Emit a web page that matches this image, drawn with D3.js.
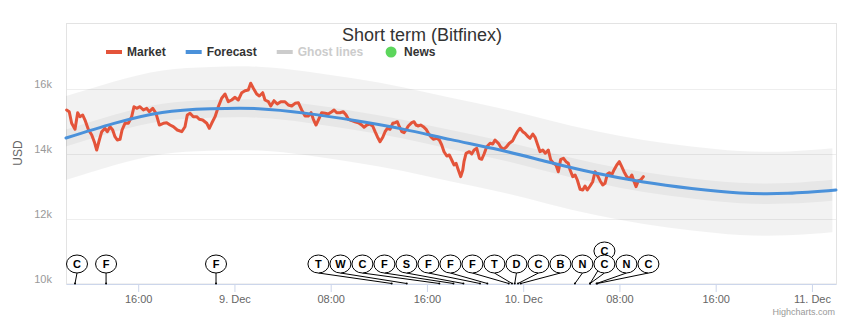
<!DOCTYPE html>
<html>
<head>
<meta charset="utf-8">
<script src="https://cdn.jsdelivr.net/npm/d3@7"></script>
<style>
  html, body { margin: 0; padding: 0; background: #fff; }
  svg { display: block; font-family: "Liberation Sans", Arial, Helvetica, sans-serif; }
</style>
</head>
<body>
<svg id="chart" width="861" height="327"></svg>
<script>
// Time window: 8 Dec 10:00 to 11 Dec 02:00 (UTC); series times are hours after START
const START = Date.UTC(2017, 11, 8, 10);
const END = Date.UTC(2017, 11, 11, 2);
const HOUR = 3600 * 1000;

// Market price (Bitfinex BTC/USD): [hours after START, price]
const market = [
  [0.05,15354],[0.27,15302],[0.47,14945],[0.75,14760],[0.97,15271],[1.16,15148],[1.39,15200],[1.58,15046],
  [1.85,14760],[2.14,14585],[2.35,14379],[2.55,14123],[2.77,14431],[2.97,14686],[3.24,14791],[3.43,14686],
  [3.66,14840],[3.88,14739],[4.07,14532],[4.26,14431],[4.49,14452],[4.66,14739],[4.90,14945],[5.18,14945],
  [5.46,15148],[5.65,15455],[5.88,15406],[6.15,15455],[6.43,15354],[6.71,15406],[6.92,15302],[7.21,15406],
  [7.48,15252],[7.76,14892],[8.09,14945],[8.37,14963],[8.65,14892],[8.92,14840],[9.25,14739],[9.62,14686],
  [9.89,14840],[10.08,15200],[10.31,15252],[10.58,15148],[10.86,15148],[11.08,15068],[11.36,15046],[11.70,14945],
  [11.91,14791],[12.11,14945],[12.39,15148],[12.66,15455],[12.94,15714],[13.22,15846],[13.49,15609],[13.77,15662],
  [14.05,15745],[14.32,15662],[14.61,15886],[14.88,15948],[15.15,15969],[15.35,16176],[15.57,16022],[15.85,15846],
  [16.07,15785],[16.35,15886],[16.54,15662],[16.82,15609],[17.02,15477],[17.29,15640],[17.56,15539],[17.85,15609],
  [18.20,15609],[18.48,15508],[18.76,15477],[19.04,15560],[19.31,15579],[19.59,15354],[19.87,15169],[20.14,15169],
  [20.37,15271],[20.56,15068],[20.78,14892],[21.00,15068],[21.25,15271],[21.53,15252],[21.80,15231],[22.09,15302],
  [22.28,15354],[22.50,15271],[22.78,15271],[23.05,15302],[23.28,15200],[23.47,15068],[23.75,15025],[24.02,14994],
  [24.30,14963],[24.58,14892],[24.77,14822],[25.00,14892],[25.21,14923],[25.49,14862],[25.69,14686],[25.88,14532],
  [26.10,14379],[26.33,14514],[26.52,14686],[26.71,14791],[26.93,14760],[27.16,14945],[27.35,14963],[27.54,14994],
  [27.71,14840],[27.91,14686],[28.10,14655],[28.26,14739],[28.45,14862],[28.74,14963],[28.93,14994],[29.09,14892],
  [29.29,14862],[29.48,14892],[29.70,14840],[29.93,14760],[30.12,14637],[30.32,14532],[30.53,14452],[30.81,14483],
  [31.03,14431],[31.23,14277],[31.42,14071],[31.65,13939],[31.86,13969],[32.06,13815],[32.25,13662],[32.42,13714],
  [32.61,13508],[32.81,13302],[32.98,13508],[33.08,13763],[33.25,14022],[33.52,14071],[33.72,14000],[33.92,14123],
  [34.14,14175],[34.36,13868],[34.55,13837],[34.75,14000],[34.97,14225],[35.25,14329],[35.47,14308],[35.66,14431],
  [35.94,14329],[36.14,14206],[36.35,14145],[36.58,14206],[36.85,14329],[37.13,14409],[37.32,14554],[37.52,14686],
  [37.74,14791],[37.96,14686],[38.15,14637],[38.35,14554],[38.57,14483],[38.80,14615],[38.99,14514],[39.18,14308],
  [39.40,14071],[39.63,14123],[39.84,14022],[40.09,14123],[40.29,13815],[40.51,13714],[40.73,13662],[40.92,13455],
  [41.12,13837],[41.34,13868],[41.56,13763],[41.75,13714],[41.90,13508],[42.12,13302],[42.31,13354],[42.50,13200],
  [42.73,12914],[42.95,12892],[43.14,13015],[43.33,12892],[43.56,13015],[43.78,13148],[43.97,13455],[44.16,13354],
  [44.39,13179],[44.61,13046],[44.80,13099],[45.00,13385],[45.16,13425],[45.36,13354],[45.55,13508],[45.78,13662],
  [45.99,13763],[46.19,13609],[46.38,13455],[46.61,13302],[46.83,13222],[47.03,13354],[47.22,13148],[47.38,12994],
  [47.57,13179],[47.77,13200],[47.99,13302]
];

// Forecast curve
const forecastHours = [0, 4, 8, 12, 16, 20, 24, 28, 32, 36, 40, 44, 48, 52, 56, 60, 64];
const forecastPrice = [14492, 14944, 15280, 15390, 15395, 15250, 15030, 14766, 14443, 14129, 13763, 13415, 13138, 12938, 12800, 12790, 12892];

// Ghost line envelopes (inner and outer spread around the forecast)
const ghostHours = [0, 4, 8, 12, 16, 20, 24, 28, 32, 36, 40, 44, 48, 52, 56, 60, 63.7];
const ghostInnerLow  = [14232, 14679, 15010, 15115, 15115, 14965, 14742, 14476, 14150, 13833, 13463, 13112, 12832, 12628, 12487, 12474, 12565];
const ghostInnerHigh = [14752, 15209, 15550, 15665, 15675, 15535, 15318, 15056, 14736, 14425, 14063, 13718, 13444, 13248, 13113, 13106, 13205];
const ghostOuterLow  = [13202, 13654, 13990, 14100, 14105, 13960, 13740, 13476, 13153, 12839, 12473, 12125, 11848, 11648, 11510, 11500, 11595];
const ghostOuterHigh = [15782, 16234, 16570, 16680, 16685, 16540, 16320, 16056, 15733, 15419, 15053, 14705, 14428, 14228, 14090, 14080, 14175];

// News flags
const newsHours  = [0.75, 3.33, 12.47, 27.07, 28.32, 31.03, 32.2, 33.03, 34.41, 35.02, 36.8, 37.07, 37.3, 37.57, 37.8, 42.3, 43.56, 43.56, 44.1, 44.15];
const newsTitles = ['C', 'F', 'F', 'T', 'W', 'C', 'F', 'S', 'F', 'F', 'F', 'T', 'D', 'C', 'B', 'N', 'C', 'C', 'N', 'C'];

const yTicks = [10000, 12000, 14000, 16000];
const yGrid = [12000, 14000, 16000];

const legendNames  = ['Market', 'Forecast', 'Ghost lines', 'News'];
const legendColors = ['#e4543a', '#4a91da', '#cccccc', '#5cd65c'];
const legendHidden = [false, false, true, false];

// ---------------------------------------------------------------
const svg = d3.select('#chart');
const plot = { left: 66, right: 836, top: 24, bottom: 284 };

const x = d3.scaleUtc().domain([START, END]).range([plot.left, plot.right]);
const y = d3.scaleLinear().domain([10000, 18000]).range([plot.bottom, plot.top]);
const t = h => new Date(START + h * HOUR);

// Title
svg.append('text')
  .attr('x', 422).attr('y', 41)
  .attr('text-anchor', 'middle')
  .attr('fill', '#333333')
  .style('font-size', '18px')
  .text('Short term (Bitfinex)');

// Grid lines
svg.append('g').selectAll('line').data(yGrid).join('line')
  .attr('x1', plot.left).attr('x2', plot.right)
  .attr('y1', d => Math.round(y(d)) + 0.5).attr('y2', d => Math.round(y(d)) + 0.5)
  .attr('stroke', '#eeeeee');

// Plot frame
svg.append('rect')
  .attr('x', plot.left + 0.5).attr('y', plot.top - 0.5)
  .attr('width', plot.right - plot.left).attr('height', plot.bottom - plot.top + 0.5)
  .attr('fill', 'none').attr('stroke', '#e3e3e3');

// Ghost line envelopes
const ghostIdx = d3.range(ghostHours.length);
const bandArea = (lo, hi) => d3.area()
  .x(i => x(t(ghostHours[i])))
  .y0(i => y(lo[i])).y1(i => y(hi[i]))
  .curve(d3.curveNatural);
svg.append('path').datum(ghostIdx)
  .attr('d', bandArea(ghostOuterLow, ghostOuterHigh))
  .attr('fill', 'rgba(0,0,0,0.05)');
svg.append('path').datum(ghostIdx)
  .attr('d', bandArea(ghostInnerLow, ghostInnerHigh))
  .attr('fill', 'rgba(0,0,0,0.045)');

// Market line
svg.append('path').datum(market)
  .attr('d', d3.line().x(d => x(t(d[0]))).y(d => y(d[1])))
  .attr('fill', 'none').attr('stroke', legendColors[0])
  .attr('stroke-width', 3).attr('stroke-linejoin', 'round').attr('stroke-linecap', 'round');

// Forecast line
svg.append('path').datum(d3.range(forecastHours.length))
  .attr('d', d3.line().x(i => x(t(forecastHours[i]))).y(i => y(forecastPrice[i])).curve(d3.curveNatural))
  .attr('fill', 'none').attr('stroke', legendColors[1])
  .attr('stroke-width', 3).attr('stroke-linecap', 'round');

// X axis
const xTicks = x.ticks(d3.utcHour.every(8));
const xAxis = svg.append('g')
  .attr('transform', `translate(0,${plot.bottom})`)
  .call(d3.axisBottom(x)
    .tickValues(xTicks)
    .tickSize(8).tickSizeOuter(0).tickPadding(3)
    .tickFormat(d => d.getUTCHours() === 0 ? d3.utcFormat('%-d. %b')(d) : d3.utcFormat('%H:%M')(d)));
xAxis.select('.domain').attr('stroke', '#ccd6eb');
xAxis.selectAll('.tick line').attr('stroke', '#ccd6eb');
xAxis.selectAll('.tick text')
  .attr('fill', '#666666')
  .style('font-size', '11px')
  .style('font-family', '"Liberation Sans", Arial, sans-serif');

// Y axis
const yAxis = svg.append('g')
  .attr('transform', `translate(${plot.left},0)`)
  .call(d3.axisLeft(y).tickValues(yTicks).tickSize(0).tickPadding(14)
    .tickFormat(d => (d / 1000) + 'k'));
yAxis.select('.domain').remove();
yAxis.selectAll('.tick text')
  .attr('dy', '-2px')
  .attr('fill', '#999999')
  .style('font-size', '11px')
  .style('font-family', '"Liberation Sans", Arial, sans-serif');

svg.append('text')
  .attr('transform', 'translate(22,153) rotate(-90)')
  .attr('text-anchor', 'middle')
  .attr('fill', '#666666')
  .style('font-size', '12px')
  .text('USD');

// News flags: spread horizontally like Highcharts' distribute, stacking identical times
const FLAG_W = 22, FLAG_H = 18, STACK = 13;
const flagRowY = 264;
const anchorY = plot.bottom - 0.5;
const news = newsHours.map((h, i) => ({ ax: x(t(h)), title: newsTitles[i], idx: i }));

const groups = d3.groups(news, d => d.ax.toFixed(2)).map(([, pts]) => ({
  ax: pts[0].ax, pts, size: FLAG_W, target: pts[0].ax - FLAG_W / 2
})).sort((a, b) => a.target - b.target);

let boxes = groups.map(g => ({ size: g.size, align: 0, targets: [g.target], items: [g] }));
const len = plot.right - plot.left;
let overlapping = true;
while (overlapping) {
  boxes.forEach(b => {
    const tg = (d3.min(b.targets) + d3.max(b.targets)) / 2;
    b.pos = Math.min(Math.max(plot.left, tg - b.size * b.align), plot.left + len - b.size);
  });
  overlapping = false;
  for (let i = boxes.length - 1; i > 0; i--) {
    if (boxes[i - 1].pos + boxes[i - 1].size > boxes[i].pos) {
      boxes[i - 1].size += boxes[i].size;
      boxes[i - 1].targets = boxes[i - 1].targets.concat(boxes[i].targets);
      boxes[i - 1].items = boxes[i - 1].items.concat(boxes[i].items);
      boxes[i - 1].align = 0.5;
      boxes.splice(i, 1);
      overlapping = true;
    }
  }
}
boxes.forEach(b => {
  let p = b.pos;
  b.items.forEach(g => { g.cx = p + FLAG_W / 2; p += FLAG_W; });
});

const flagList = [];
groups.forEach(g => g.pts.forEach((p, k) => {
  flagList.push({ ...p, cx: g.cx, cy: flagRowY - k * STACK, stack: k });
}));
flagList.sort((a, b) => b.stack - a.stack || a.idx - b.idx);

const flagG = svg.append('g');
const flag = flagG.selectAll('g').data(flagList).join('g');
flag.append('line')
  .attr('x1', d => d.cx).attr('y1', d => d.cy + FLAG_H / 2)
  .attr('x2', d => d.ax).attr('y2', anchorY)
  .attr('stroke', '#000').attr('stroke-width', 1);
flag.append('circle')
  .attr('cx', d => d.ax).attr('cy', anchorY).attr('r', 1)
  .attr('fill', '#000');
flag.append('ellipse')
  .attr('cx', d => d.cx).attr('cy', d => d.cy)
  .attr('rx', FLAG_W / 2 - 0.5).attr('ry', FLAG_H / 2)
  .attr('fill', '#fff').attr('stroke', '#000').attr('stroke-width', 1);
flag.append('text')
  .attr('x', d => d.cx).attr('y', d => d.cy + 4)
  .attr('text-anchor', 'middle')
  .attr('fill', '#000')
  .style('font-size', '11px').style('font-weight', 'bold')
  .text(d => d.title);

// Legend
const legend = svg.append('g').attr('transform', 'translate(106,52)');
let lx = 0;
legendNames.forEach((name, i) => {
  const item = legend.append('g').attr('transform', `translate(${lx},0)`);
  const col = legendHidden[i] ? '#cccccc' : legendColors[i];
  if (name === 'News') {
    item.append('circle').attr('cx', 8).attr('cy', 0).attr('r', 5.5).attr('fill', col);
  } else {
    item.append('line').attr('x1', 0).attr('x2', 16).attr('y1', 0).attr('y2', 0)
      .attr('stroke', col).attr('stroke-width', 4);
  }
  const txt = item.append('text')
    .attr('x', 21).attr('y', 4)
    .attr('fill', legendHidden[i] ? '#cccccc' : '#333333')
    .style('font-size', '12px').style('font-weight', 'bold')
    .text(name);
  lx += 21 + txt.node().getComputedTextLength() + 20;
});

// Credits
svg.append('text')
  .attr('x', 835).attr('y', 315)
  .attr('text-anchor', 'end')
  .attr('fill', '#999999')
  .style('font-size', '9px')
  .text('Highcharts.com');
</script>
</body>
</html>
